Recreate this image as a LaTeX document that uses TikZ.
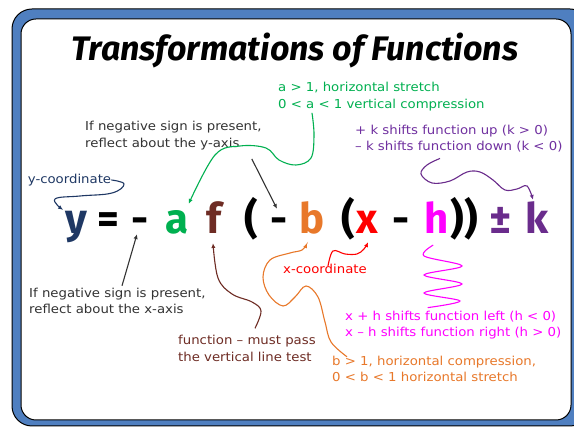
\documentclass[tikz,border=0pt]{standalone}
\usepackage{fontspec}
\setmainfont{Fira Sans}
\newfontfamily\notefont[FakeStretch=1.08]{DejaVu Sans}
\usepackage{tikz}
\usetikzlibrary{arrows.meta,positioning}
\definecolor{framebg}{HTML}{4F7FC0}
\definecolor{navyink}{HTML}{1F3864}
\definecolor{greenink}{HTML}{00B050}
\definecolor{brownink}{HTML}{6E2C24}
\definecolor{orangeink}{HTML}{E8782A}
\definecolor{redink}{HTML}{FF0000}
\definecolor{pinkink}{HTML}{FF00FF}
\definecolor{purpleink}{HTML}{6A2C8C}
\definecolor{purpletext}{HTML}{7030A0}
\definecolor{greyink}{HTML}{333333}
\tikzset{
  symbolnode/.style={inner sep=0pt,anchor=base,text height=29pt,text depth=9pt,
    font=\fontsize{42}{42}\selectfont\bfseries},
  notetext/.style={inner sep=0pt,align=left,anchor=west,
    font=\notefont\fontsize{12.3}{16.5}\selectfont},
  handarrow/.style={-{Latex[length=1.7mm,width=1.5mm]},line width=1.1pt},
  handline/.style={line width=1.1pt,line cap=round}
}

\begin{document}
\begin{tikzpicture}[x=1pt,y=-1pt]
  \useasboundingbox (0,0) rectangle (574,427);
  \fill[white] (0,0) rectangle (574,427);
  % frame
  \draw[fill=framebg,line width=1pt,rounded corners=20pt] (12,9) rectangle (590,426);
  \draw[fill=white,line width=1pt,rounded corners=15pt] (21,19) rectangle (571,420);
  \node[font=\fontsize{34}{34}\selectfont\bfseries\itshape] (title) at (295,50.5)
    {Transformations of Functions};

  % the formula
  \node[symbolnode,text=navyink] (ysym) at (76,234) {y};
  \node[symbolnode] (eqsym) at (108,234) {=};
  \node[symbolnode] (negA) at (140,234) {-};
  \node[symbolnode,text=greenink] (asym) at (177,234) {a};
  \node[symbolnode,text=brownink] (fsym) at (214,234) {f};
  \node[symbolnode] (lparA) at (251,234) {(};
  \node[symbolnode] (negB) at (279,234) {-};
  \node[symbolnode,text=orangeink] (bsym) at (312,234) {b};
  \node[symbolnode] (lparB) at (348,234) {(};
  \node[symbolnode,text=redink] (xsym) at (367,234) {x};
  \node[symbolnode] (minus) at (401,234) {-};
  \node[symbolnode,text=pinkink] (hsym) at (437,234) {h};
  \node[symbolnode] (rpar) at (464,234) {))};
  \node[symbolnode,text=purpleink] (pmsym) at (501,234) {±};
  \node[symbolnode,text=purpleink] (ksym) at (537,234) {k};

  % notes
  \node[notetext,text=greyink] (reflecty) at (85,135.5)
    {If negative sign is present,\\reflect about the y-axis};
  \node[notetext,text=greenink] (anote) at (278,96.5)
    {a > 1, horizontal stretch\\0 < a < 1 vertical compression};
  \node[notetext,text=purpletext] (knote) at (355,138.5)
    {+ k shifts function up (k > 0)\\– k shifts function down (k < 0)};
  \node[notetext,text=navyink,anchor=center] (ylabel) at (69.5,180) {y-coordinate};
  \node[notetext,text=redink,anchor=center] (xlabel) at (325,269) {x-coordinate};
  \node[notetext,text=greyink] (reflectx) at (29,301)
    {If negative sign is present,\\reflect about the x-axis};
  \node[notetext,text=brownink] (fnote) at (178,348.5)
    {function – must pass\\the vertical line test};
  \node[notetext,text=pinkink] (hnote) at (345,325)
    {x + h shifts function left (h < 0)\\x – h shifts function right (h > 0)};
  \node[notetext,text=orangeink] (bnote) at (332,369)
    {b > 1, horizontal compression,\\0 < b < 1 horizontal stretch};

  % connectors
  \draw[handarrow,navyink] plot[smooth,tension=0.7] coordinates {(ylabel.east)
    (124,184) (112,193) (80,196) (55,199) ([xshift=-2pt,yshift=-5pt]ysym.north west)};
  \draw[handarrow,greyink] ([xshift=-10pt,yshift=-9pt]reflecty.south east)
    -- ([xshift=-2pt,yshift=-4pt]negB.north);
  \draw[handarrow,greyink] ([xshift=93pt,yshift=2pt]reflectx.north west)
    -- ([xshift=-3pt,yshift=9pt]negA.south);
  \draw[handarrow,greenink] plot[smooth,tension=0.6] coordinates
    {([xshift=34pt,yshift=-2pt]anote.south west) (314,135) (311,158) (296,165)
    (279,160) (266,148) (240,146) (215,155) ([yshift=1pt]asym.north east)};
  \draw[handarrow,brownink] plot[smooth,tension=0.6] coordinates
    {([xshift=77pt,yshift=7pt]fnote.north west) (261,311) (252,302) (232,294)
    (218,278) ([xshift=-1pt]fsym.south)};
  \draw[handarrow,orangeink] plot[smooth,tension=0.6] coordinates
    {([xshift=15pt,yshift=-1pt]bnote.north west) (331,342) (325,322) (318,297)
    (306,286) (295,297) (283,306) (269,295) (263,277) (270,260) (290,253)
    (302,250) ([xshift=-5pt]bsym.south)};
  \draw[handarrow,redink] plot[smooth,tension=0.6] coordinates
    {([xshift=3pt,yshift=-2pt]xlabel.north) (333,251) (345,254) (357,254)
    (364,249) ([xshift=1pt,yshift=1pt]xsym.south)};
  \draw[handline,pinkink] plot[smooth,tension=0.55] coordinates
    {([xshift=-4pt,yshift=-2pt]hsym.south) (424,256) (462,266) (424,275)
    (462,284) (424,293) (460,301) ([xshift=83pt,yshift=3pt]hnote.north west)};
  \draw[handarrow,purpleink] plot[smooth,tension=0.6] coordinates
    {([xshift=85pt,yshift=-6pt]knote.south west) (427,165) (421,174) (432,183)
    (450,181) (467,172) (480,172) (493,180) (505,190) (517,189) (527,186)
    ([xshift=-4pt,yshift=5pt]ksym.north)};
\end{tikzpicture}
\end{document}
